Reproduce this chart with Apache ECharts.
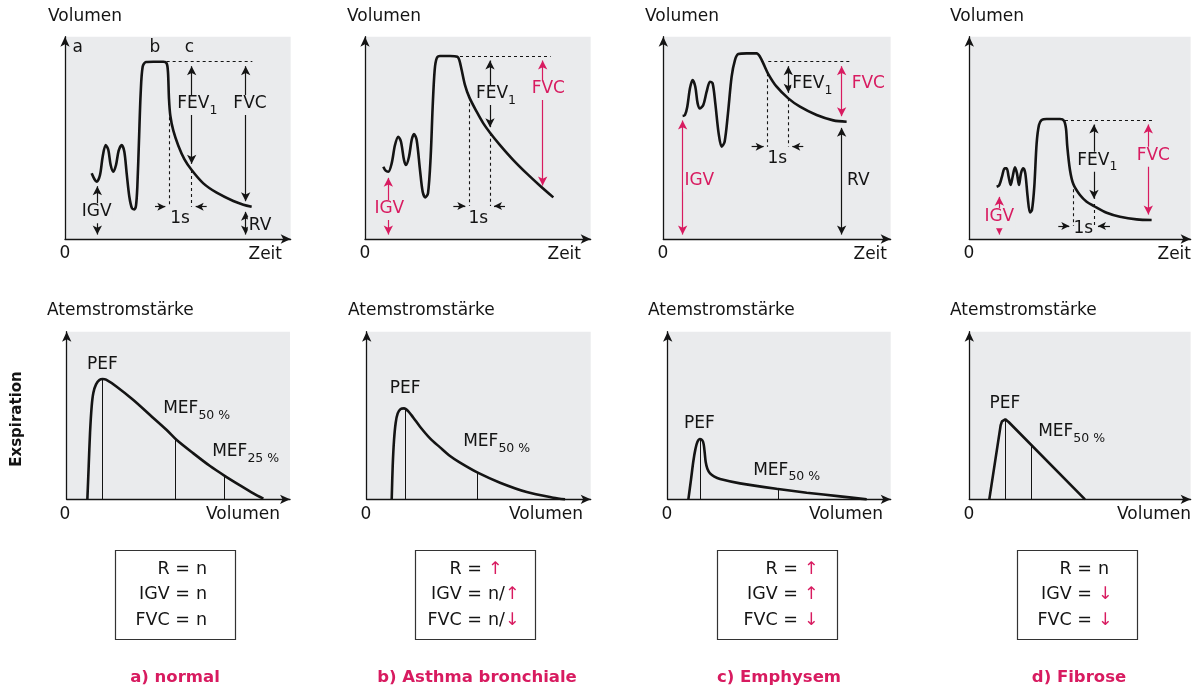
<!DOCTYPE html>
<html><head><meta charset="utf-8">
<script src="https://cdn.jsdelivr.net/npm/echarts@6/dist/echarts.min.js"></script>
<style>html,body{margin:0;padding:0;background:#fff}#c{width:1196px;height:690px}</style>
</head><body><div id="c"></div>
<script>
// ---------- data (arbitrary units) ----------
const panelTitles = ['a) normal', 'b) Asthma bronchiale', 'c) Emphysem', 'd) Fibrose'];

// Spirogram: volume vs time
const spiroA = [[80,197],[88,180],[95,172],[105,192],[113,247],[122,282],[130,267],[137,222],[145,202],[153,222],[161,265],[170,282],[178,262],[185,197],[193,127],[201,92],[208,89],[213,100],[217,157],[222,297],[227,437],[233,517],[243,531],[265,532],[295,532],[305,527],[309,500],[312,420],[316,370],[325,325],[340,280],[358,240],[380,207],[415,167],[455,139],[505,114],[535,103],[560,97]];
const spiroB = [[55,217],[62,205],[70,202],[80,227],[90,282],[100,307],[108,292],[117,237],[123,222],[132,247],[140,297],[147,315],[155,297],[165,207],[173,142],[181,125],[189,137],[197,247],[203,397],[209,507],[215,542],[225,549],[255,549],[277,547],[283,537],[290,507],[300,462],[313,425],[335,382],[355,347],[375,319],[405,282],[445,237],[485,197],[525,160],[565,125]];
const spiroC = [[58,369],[65,372],[72,397],[80,452],[88,477],[96,457],[103,407],[110,392],[120,402],[130,442],[140,472],[148,467],[156,407],[166,317],[175,277],[184,292],[194,377],[205,487],[215,537],[225,555],[250,557],[280,557],[290,547],[300,527],[315,495],[340,457],[375,422],[410,397],[460,372],[510,356],[550,352]];
const spiroD = [[82,157],[90,162],[98,187],[106,212],[112,212],[118,187],[124,162],[130,187],[137,215],[143,197],[149,162],[155,197],[162,212],[168,197],[175,127],[182,80],[188,87],[195,157],[202,287],[209,342],[217,357],[232,360],[272,360],[284,355],[290,332],[294,277],[302,207],[312,165],[332,132],[352,112],[374,99],[412,79],[452,67],[502,59],[547,57]];

// Flow-volume curves (expiration)
const flowA = [[62,0],[66,100],[70,200],[75,280],[80,320],[88,345],[98,358],[108,361],[118,359],[150,338],[200,298],[250,253],[300,208],[330,178],[380,138],[430,100],[475,70],[520,42],[560,18],[590,2]];
const flowB = [[75,0],[78,100],[82,178],[87,230],[93,258],[102,271],[112,273],[125,264],[140,245],[160,218],[190,183],[220,156],[250,130],[280,110],[333,80],[400,50],[480,22],[560,5],[595,0]];
const flowC = [[62,0],[70,60],[77,115],[83,150],[89,172],[97,181],[104,177],[108,165],[111,140],[114,112],[119,92],[127,78],[140,68],[157,61],[217,48],[331,31],[417,20],[517,9],[597,0]];
const flowD = [[60,0],[94,222],[98,234],[103,239],[108,240],[113,237],[118,232],[347,0]];

// axis ranges
const spiroXMax = [677, 677, 682, 664];
const spiroYMax = 607;
const flowXMax = [670, 672, 669, 664];
const flowYMax = 503;

// dashed reference lines [x1,y1,x2,y2]
const spiroDashed = [
  [[305,532,562,532],[313,365,313,97],[380,207,380,97]],
  [[285,549,557,549],[313,425,313,99],[375,319,375,99]],
  [[315,532,562,532],[313,497,313,277],[375,422,375,277]],
  [[287,357,552,357],[312,167,312,39],[374,105,374,39]]
];
// measurement arrows [x, yFrom, yTo, colour]
const spiroArrows = [
  [[380,532,212,'k'],[542,532,100,'k'],[542,95,0,'k'],[97,172,0,'k']],
  [[375,549,322,'k'],[533,549,147,'p'],[70,197,0,'p']],
  [[375,532,425,'k'],[535,532,355,'p'],[535,347,0,'k'],[58,369,0,'p']],
  [[374,357,107,'k'],[537,357,60,'p'],[90,140,0,'p']]
];
// 1 s markers [y, outerLeft, left, right, outerRight]
const oneSec = [[97,270,313,380,425],[99,265,313,375,420],[277,265,313,375,420],[39,267,312,374,422]];
// labels [text, x, y, colour, anchor]  (anchor: c = centred with background, l = left, t = centred, no background)
const spiroLabels = [
  [['a',38,569,'k','c'],['b',270,569,'k','c'],['c',373,569,'k','c'],['FEV_1',397,402,'k','c'],['FVC',555,402,'k','c'],['IGV',95,77,'k','c'],['RV',585,37,'k','c'],['1s',345,57,'k','t']],
  [['FEV_1',393,432,'k','c'],['FVC',550,447,'p','c'],['IGV',73,87,'p','c'],['1s',340,57,'k','t']],
  [['FEV_1',447,462,'k','c'],['FVC',615,462,'p','c'],['RV',585,172,'k','c'],['IGV',108,172,'p','c'],['1s',342,237,'k','t']],
  [['FEV_1',384,232,'k','c'],['FVC',552,247,'p','c'],['IGV',90,62,'p','c'],['1s',342,27,'k','t']]
];
// flow marker lines [x, yTop]
const flowMarks = [
  [[107,361],[327,180],[473,73]],
  [[115,272],[333,80]],
  [[97,181],[331,31]],
  [[107,240],[187,162]]
];
const flowLabels = [
  [['PEF',107,400,'k','t'],['MEF_50 %',285,268,'k','l'],['MEF_25 %',432,138,'k','l']],
  [['PEF',115,328,'k','t'],['MEF_50 %',285,168,'k','l']],
  [['PEF',95,223,'k','t'],['MEF_50 %',252,83,'k','l']],
  [['PEF',107,283,'k','t'],['MEF_50 %',202,198,'k','l']]
];
// summary boxes
const boxKeys = ['R =', 'IGV =', 'FVC ='];
const boxValues = [
  ['n', 'n', 'n'],
  ['up', 'n/up', 'n/down'],
  ['up', 'up', 'down'],
  ['n', 'down', 'down']
];

// ---------- layout & style ----------
const FONT = 'DejaVu Sans';
const INK = '#141414';
const PINK = '#d81b60';
const BG = '#eaebed';
const col = c => c === 'p' ? PINK : INK;

const spiroLeft = [65, 365, 663.3, 969.3];
const flowLeft = [66.7, 366.7, 667.7, 969.3];
const spiroTop = 36.7, flowTop = 331.7;
const UNIT = 3; // data units per pixel

const grids = [], xAxes = [], yAxes = [], series = [], graphic = [];

function addAxes(idx, xmax, ymax) {
  const line = {show: true, symbol: ['none', 'arrow'], symbolSize: [7, 10], lineStyle: {color: INK, width: 1.3}};
  const common = {gridIndex: idx, type: 'value', min: 0, axisLine: line, axisTick: {show: false}, axisLabel: {show: false}, splitLine: {show: false}};
  xAxes[idx] = Object.assign({max: xmax}, common);
  yAxes[idx] = Object.assign({max: ymax}, common);
}

function richFor(c) {
  return {
    m: {color: c, fontSize: 17, fontFamily: FONT, lineHeight: 20, verticalAlign: 'top', textBorderWidth: 0},
    s: {color: c, fontSize: 12.5, fontFamily: FONT, lineHeight: 13, padding: [9, 0, 0, 0], verticalAlign: 'top', textBorderWidth: 0}
  };
}
function fmt(t) {
  if (t.includes('_')) { const [a, b] = t.split('_'); return '{m|' + a + '}{s|' + b + '}'; }
  return '{m|' + t + '}';
}
function labelSeries(idx, labels) {
  return {
    type: 'scatter', xAxisIndex: idx, yAxisIndex: idx, symbolSize: 1, silent: true, z: 6,
    itemStyle: {color: 'rgba(0,0,0,0)'}, emphasis: {disabled: true},
    data: labels.map(l => ({
      value: [l[1], l[2]],
      label: {show: true, position: l[4] === 'l' ? 'right' : 'inside', distance: 0,
        color: col(l[3]), opacity: 1, textBorderWidth: 0,
        formatter: fmt(l[0]), rich: richFor(col(l[3])),
        backgroundColor: l[4] === 'c' ? BG : 'transparent', padding: [0, 1]}
    }))
  };
}

const INSET = 4.5 * UNIT;
function arrowItem(x1, y1, x2, y2, c, fromSym, toSym, size) {
  const dx = x2 - x1, dy = y2 - y1, len = Math.hypot(dx, dy) || 1;
  const ux = dx / len, uy = dy / len;
  const ins = size ? size[1] / 2 * UNIT : INSET;
  const a = fromSym === 'arrow' ? [x1 + ux * ins, y1 + uy * ins] : [x1, y1];
  const b = toSym === 'arrow' ? [x2 - ux * ins, y2 - uy * ins] : [x2, y2];
  return [
    {coord: a, symbol: fromSym, symbolSize: size || [7, 9], lineStyle: {color: col(c), width: 1.2, type: 'solid'}},
    {coord: b, symbol: toSym, symbolSize: size || [7, 9]}
  ];
}

const curves = [spiroA, spiroB, spiroC, spiroD];
const flows = [flowA, flowB, flowC, flowD];

for (let i = 0; i < 4; i++) {
  // ---- spirogram panel ----
  const gi = i;
  grids[gi] = {left: spiroLeft[i], top: spiroTop, width: spiroXMax[i] / UNIT, height: spiroYMax / UNIT,
    show: true, backgroundColor: BG, borderWidth: 0};
  addAxes(gi, spiroXMax[i], spiroYMax);
  const mlData = [];
  spiroDashed[i].forEach(d => mlData.push([
    {coord: [d[0], d[1]], symbol: 'none', lineStyle: {color: INK, width: 1.1, type: [3, 3]}},
    {coord: [d[2], d[3]], symbol: 'none'}
  ]));
  spiroArrows[i].forEach(a => mlData.push(arrowItem(a[0], a[1], a[0], a[2], a[3], 'arrow', 'arrow')));
  const s = oneSec[i];
  mlData.push(arrowItem(s[1], s[0], s[2], s[0], 'k', 'none', 'arrow', [6, 8]));
  mlData.push(arrowItem(s[4], s[0], s[3], s[0], 'k', 'none', 'arrow', [6, 8]));
  series.push({
    type: 'line', xAxisIndex: gi, yAxisIndex: gi, data: curves[i], showSymbol: false,
    smooth: 0.3, silent: true, z: 3,
    lineStyle: {color: INK, width: 2.6},
    markLine: {silent: true, symbol: ['arrow', 'arrow'], symbolSize: [7, 9], label: {show: false},
      emphasis: {disabled: true}, data: mlData, z: 2}
  });
  series.push(labelSeries(gi, spiroLabels[i]));

  // ---- flow-volume panel ----
  const fi = 4 + i;
  grids[fi] = {left: flowLeft[i], top: flowTop, width: flowXMax[i] / UNIT, height: flowYMax / UNIT,
    show: true, backgroundColor: BG, borderWidth: 0};
  addAxes(fi, flowXMax[i], flowYMax);
  series.push({
    type: 'line', xAxisIndex: fi, yAxisIndex: fi, data: flows[i], showSymbol: false,
    smooth: i === 3 ? false : 0.3, silent: true, z: 3,
    lineStyle: {color: INK, width: 2.6},
    markLine: {silent: true, symbol: ['none', 'none'], label: {show: false}, emphasis: {disabled: true},
      lineStyle: {color: INK, width: 1, type: 'solid'},
      data: flowMarks[i].map(m => [{coord: [m[0], 0]}, {coord: [m[0], m[1]]}])}
  });
  series.push(labelSeries(fi, flowLabels[i]));
}

// ---------- surrounding text ----------
const T = (x, y, text, o) => graphic.push(Object.assign({type: 'text', x, y, silent: true,
  style: Object.assign({text, fill: INK, fontSize: 17, fontFamily: FONT, align: 'left', verticalAlign: 'middle'}, o && o.style)},
  o && o.extra));

const volTitleX = [48, 347, 645, 950];
const zeroTopX = [65, 365, 663, 969];
const zeitRightX = [282, 581, 887, 1191];
const flowTitleX = [47, 348, 648, 950];
const zeroBotX = [65, 366, 667, 969];
const volRightX = [280, 583, 883, 1191];
const boxLeft = [115, 415, 717, 1017];
const eqRight = [190, 482, 798, 1092];
const lineY = [569, 594, 620];
const titleX = [175, 477, 779, 1079];
const BOXFS = 17.5;

for (let i = 0; i < 4; i++) {
  T(volTitleX[i], 17, 'Volumen');
  T(zeroTopX[i], 254, '0', {style: {align: 'center'}});
  T(zeitRightX[i], 255, 'Zeit', {style: {align: 'right'}});
  T(flowTitleX[i], 311, 'Atemstromstärke');
  T(zeroBotX[i], 515, '0', {style: {align: 'center'}});
  T(volRightX[i], 515, 'Volumen', {style: {align: 'right'}});
  graphic.push({type: 'rect', silent: true, shape: {x: boxLeft[i] + 0.5, y: 550.5, width: 120, height: 89},
    style: {fill: '#fff', stroke: '#333', lineWidth: 1.2}});
  for (let r = 0; r < 3; r++) {
    T(eqRight[i], lineY[r], boxKeys[r], {style: {align: 'right', fontSize: BOXFS}, extra: {z: 10}});
    const v = boxValues[i][r].replace('up', '{p|↑}').replace('down', '{p|↓}');
    const txt = v.split(/(\{p\|[↑↓]\})/).filter(Boolean).map(p => p.startsWith('{') ? p : '{k|' + p + '}').join('');
    T(eqRight[i] + 6, lineY[r], txt, {style: {fontSize: BOXFS, rich: {
      k: {fill: INK, fontSize: BOXFS, fontFamily: FONT},
      p: {fill: PINK, fontSize: BOXFS, fontFamily: FONT}
    }}, extra: {z: 10}});
  }
  T(titleX[i], 678, panelTitles[i], {style: {align: 'center', fill: PINK, fontWeight: 'bold', fontSize: 16.5}});
}
T(17, 419, 'Exspiration', {style: {align: 'center', fontWeight: 'bold', fontSize: 15}, extra: {rotation: Math.PI / 2}});

const chart = echarts.init(document.getElementById('c'), null, {renderer: 'canvas'});
chart.setOption({
  animation: false,
  backgroundColor: '#fff',
  grid: grids, xAxis: xAxes, yAxis: yAxes, series, graphic
});
</script></body></html>
